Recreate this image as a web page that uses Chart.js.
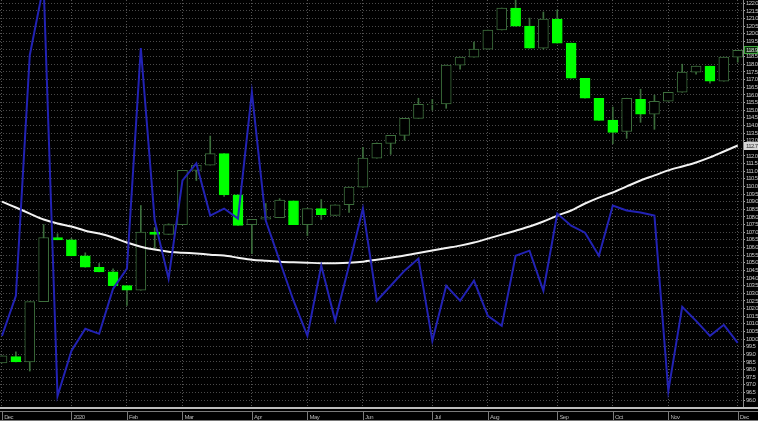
<!DOCTYPE html>
<html>
<head>
<meta charset="utf-8">
<script src="https://cdn.jsdelivr.net/npm/chart.js@4.4.1/dist/chart.umd.min.js"></script>
<style>
  html, body { margin: 0; padding: 0; background: #000; }
  canvas { display: block; }
</style>
</head>
<body>
<canvas id="priceChart" width="758" height="421"></canvas>
<script>
// weekly candles, Dec 2019 - Dec 2020
const opens  = [98.43, 98.85, 98.5, 102.45, 106.65, 106.5, 105.45, 104.7, 104.4, 103.5, 103.2, 107.0, 106.85, 107.5, 111.05, 111.4, 112.15, 109.45, 107.5, 107.85, 107.95, 109.05, 107.5, 108.55, 108.1, 108.8, 109.95, 111.85, 112.82, 113.35, 114.46, 115.35, 115.4, 117.95, 118.47, 119.0, 120.25, 121.69, 120.5, 119.06, 120.97, 119.39, 117.09, 115.78, 114.35, 113.6, 115.7, 114.73, 115.58, 116.17, 117.49, 117.88, 116.9, 118.47];
const highs  = [98.89, 99.16, 102.45, 107.5, 106.9, 106.6, 105.65, 104.95, 104.6, 103.5, 108.75, 107.3, 107.55, 111.05, 111.4, 113.3, 112.15, 109.45, 107.85, 108.88, 109.2, 109.05, 108.55, 109.14, 108.8, 109.95, 112.56, 112.85, 113.35, 114.46, 115.78, 115.7, 117.95, 118.47, 119.46, 120.25, 121.69, 122.3, 121.03, 121.43, 121.56, 119.39, 117.09, 115.78, 115.2, 115.78, 116.37, 115.98, 116.17, 118.01, 117.88, 117.88, 118.47, 118.92];
const lows   = [98.43, 98.5, 97.9, 102.45, 106.5, 105.45, 104.7, 104.4, 103.5, 102.2, 103.2, 105.9, 106.85, 107.5, 110.39, 111.4, 109.35, 107.45, 105.6, 107.85, 107.95, 107.5, 106.78, 107.83, 108.1, 108.29, 109.95, 111.85, 112.1, 113.02, 114.46, 115.0, 115.12, 117.68, 118.47, 119.0, 120.25, 120.5, 119.06, 119.0, 119.39, 117.09, 115.78, 114.33, 112.8, 113.15, 114.2, 113.74, 115.58, 116.17, 117.35, 116.76, 116.9, 118.14];
const closes = [98.89, 98.5, 102.45, 106.65, 106.5, 105.45, 104.7, 104.4, 103.5, 103.2, 107.0, 106.85, 107.5, 111.05, 111.4, 112.15, 109.45, 107.45, 107.85, 107.95, 109.1, 107.5, 108.55, 108.15, 108.8, 109.95, 111.85, 112.82, 113.35, 114.46, 115.38, 115.4, 117.95, 118.47, 119.0, 120.25, 121.69, 120.5, 119.06, 120.97, 119.39, 117.09, 115.78, 114.33, 113.54, 115.78, 114.73, 115.58, 116.17, 117.49, 117.88, 116.9, 118.47, 118.92];

// moving average (white) and oscillator (blue), in price units
const maLine  = [109.0, 108.62, 108.22, 107.83, 107.57, 107.37, 107.1, 106.91, 106.65, 106.32, 106.05, 105.86, 105.72, 105.66, 105.6, 105.53, 105.47, 105.33, 105.2, 105.13, 105.07, 105.03, 105.0, 104.97, 104.97, 105.0, 105.07, 105.2, 105.33, 105.47, 105.63, 105.8, 105.96, 106.12, 106.32, 106.58, 106.84, 107.1, 107.37, 107.7, 108.09, 108.42, 108.88, 109.27, 109.6, 110.0, 110.39, 110.72, 111.05, 111.31, 111.57, 111.9, 112.29, 112.68];
const oscLine = [100.21, 102.83, 118.6, 123.2, 96.27, 99.22, 100.67, 100.34, 103.29, 104.61, 119.06, 107.76, 103.95, 110.39, 111.51, 108.09, 108.55, 107.89, 116.17, 107.76, 105.13, 102.51, 100.21, 104.81, 101.19, 104.81, 108.55, 102.51, 103.49, 104.48, 105.27, 99.88, 103.49, 102.51, 103.82, 101.52, 100.86, 105.46, 105.79, 103.16, 108.22, 107.43, 106.97, 105.46, 108.75, 108.42, 108.29, 108.09, 96.59, 102.11, 101.19, 100.21, 100.93, 99.75];

// month markers on the time axis (candle index of first week)
const monthIdx    = [0, 5, 9, 13, 18, 22, 26, 31, 35, 40, 44, 48, 53];
const monthLabels = ['Dec', '2020', 'Feb', 'Mar', 'Apr', 'May', 'Jun', 'Jul', 'Aug', 'Sep', 'Oct', 'Nov', 'Dec'];

const candleIdx = opens.map((_, i) => i);
const isDown = i => closes[i] < opens[i];

const yTicks = [];
for (let v = 96; v <= 122.001; v += 0.5) yTicks.push(Math.round(v * 10) / 10);

const HOLLOW = '#3c6e3c';
const FILLED = '#00ff00';
const FONT_FAMILY = "'Liberation Sans', Arial, sans-serif";
const axisFont = { family: FONT_FAMILY, size: 6 };

const chartDecor = {
  id: 'chartDecor',
  beforeDraw(chart) {
    const ctx = chart.ctx;
    ctx.fillStyle = '#000';
    ctx.fillRect(0, 0, chart.width, chart.height);
    ctx.letterSpacing = '-0.6px';   // squeeze the tiny axis text like the terminal font
  },
  afterDraw(chart) {
    const { ctx, chartArea, scales } = chart;
    const b = chartArea.bottom;
    ctx.save();
    // bottom date strip
    ctx.fillStyle = '#bdbdbd';
    ctx.fillRect(0, b + 1, chart.width, 2);
    ctx.strokeStyle = '#7a7a7a';
    ctx.lineWidth = 1;
    ctx.beginPath();
    ctx.moveTo(0, b + 5.5); ctx.lineTo(chart.width, b + 5.5);
    ctx.moveTo(0, chart.height - 0.5); ctx.lineTo(chart.width, chart.height - 0.5);
    monthIdx.forEach(v => {
      const x = Math.round(scales.x.getPixelForValue(v)) + 0.5;
      ctx.moveTo(x, b + 5.5); ctx.lineTo(x, chart.height);
    });
    ctx.stroke();

    // last price / last MA markers on the price axis
    ctx.font = '6px ' + FONT_FAMILY;
    ctx.textBaseline = 'middle';
    const last = closes.length - 1;
    const py = Math.round(scales.y.getPixelForValue(closes[last]));
    ctx.fillStyle = '#0b2a0b';
    ctx.fillRect(chartArea.right + 1, py - 4, 14, 8);
    ctx.strokeStyle = '#3faa3f';
    ctx.strokeRect(chartArea.right + 1.5, py - 3.5, 13, 7);
    ctx.fillStyle = '#d8d8d8';
    ctx.fillText(closes[last].toFixed(1), chartArea.right + 3, py);
    const my = Math.round(scales.y.getPixelForValue(maLine[last]));
    ctx.fillStyle = '#d6d6d6';
    ctx.fillRect(chartArea.right + 1, my - 4, 14, 8);
    ctx.fillStyle = '#333';
    ctx.fillText(maLine[last].toFixed(1), chartArea.right + 3, my);
    ctx.restore();
  }
};

new Chart(document.getElementById('priceChart'), {
  data: {
    datasets: [{
      type: 'line',
      label: 'Oscillator',
      data: candleIdx.map(i => ({ x: i, y: oscLine[i] })),
      borderColor: '#2222b4',
      borderWidth: 2,
      pointRadius: 0,
      tension: 0,
      order: 0
    }, {
      type: 'line',
      label: 'MA',
      data: candleIdx.map(i => ({ x: i, y: maLine[i] })),
      borderColor: '#f2f2f2',
      borderWidth: 2,
      pointRadius: 0,
      tension: 0.3,
      order: 1
    }, {
      type: 'bar',
      label: 'Body',
      data: candleIdx.map(i => ({ x: i, y: [opens[i], closes[i]] })),
      backgroundColor: ctx => isDown(ctx.dataIndex) ? FILLED : '#000',
      borderColor: ctx => isDown(ctx.dataIndex) ? FILLED : HOLLOW,
      borderWidth: 1,
      borderSkipped: false,
      barThickness: 10,
      grouped: false,
      order: 2
    }, {
      type: 'bar',
      label: 'Wick',
      data: candleIdx.map(i => ({ x: i, y: [lows[i], highs[i]] })),
      backgroundColor: HOLLOW,
      borderWidth: 0,
      barThickness: 1,
      grouped: false,
      order: 3
    }]
  },
  options: {
    responsive: false,
    animation: false,
    layout: { padding: 0 },
    plugins: { legend: { display: false }, tooltip: { enabled: false } },
    scales: {
      x: {
        type: 'linear',
        offset: false,
        min: -0.144,
        max: 53.38,
        afterBuildTicks: scale => { scale.ticks = monthIdx.map(v => ({ value: v })); },
        afterFit: scale => {
          scale.height = 15;
          scale.paddingLeft = 0;
          scale.paddingRight = 0;
        },
        ticks: {
          autoSkip: false,
          maxRotation: 0,
          align: 'start',
          padding: 8,
          color: '#b4b4b4',
          font: axisFont,
          callback: (v, i) => '  ' + monthLabels[i]
        },
        grid: { color: '#555', drawTicks: false, offset: false },
        border: { display: false, dash: [1, 2] }
      },
      y: {
        position: 'right',
        min: 95.61,
        max: 122.217,
        afterBuildTicks: scale => { scale.ticks = yTicks.map(v => ({ value: v })); },
        afterFit: scale => {
          scale.width = 15;
          scale.paddingTop = 0;
          scale.paddingBottom = 0;
        },
        ticks: {
          autoSkip: false,
          padding: 1,
          color: '#c4c4c4',
          font: axisFont,
          callback: v => v.toFixed(1)
        },
        grid: { color: '#4a4a4a', tickLength: 2, tickColor: '#aaa', tickBorderDash: [] },
        border: { display: true, color: '#8a8a8a', dash: [1, 2] }
      }
    }
  },
  plugins: [chartDecor]
});
</script>
</body>
</html>
